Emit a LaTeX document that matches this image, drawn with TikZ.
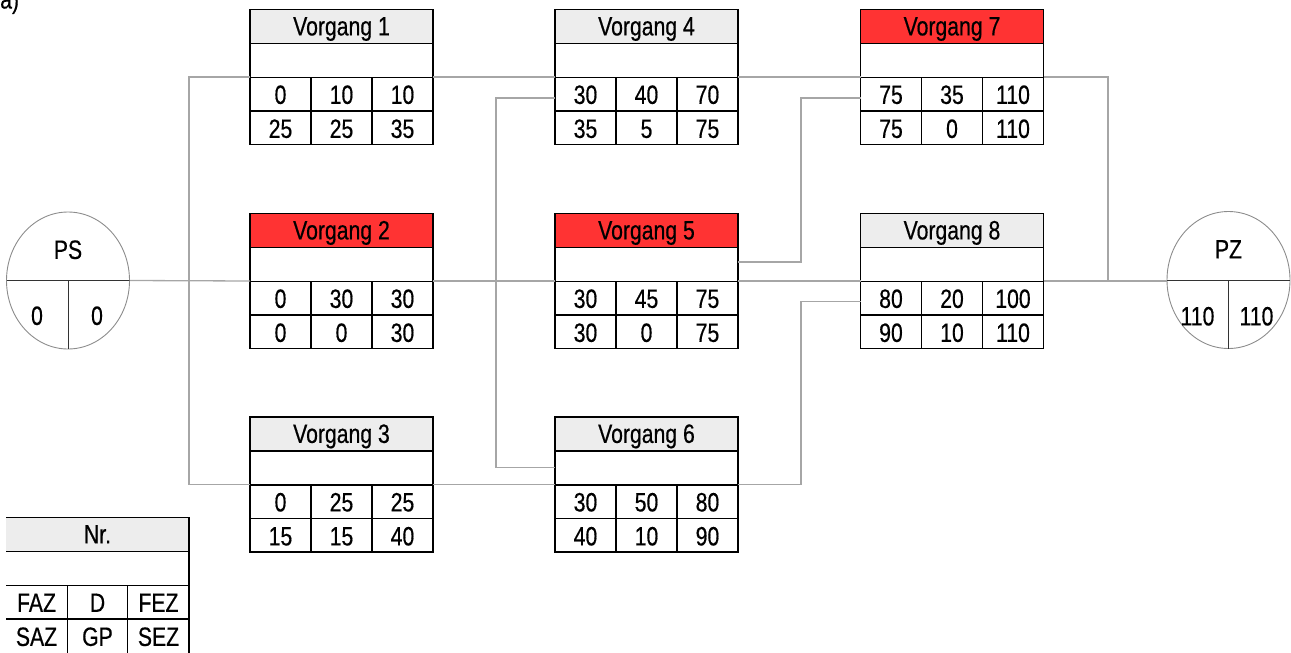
\documentclass[tikz,border=0pt]{standalone}
\usepackage{fontspec}
\setmainfont[FakeStretch=0.8,FakeBold=0.5]{Liberation Sans}
\usetikzlibrary{calc,shapes.geometric}

\definecolor{critred}{HTML}{FF3333}
\definecolor{headgrey}{HTML}{EDEDED}
\definecolor{linkgrey}{HTML}{A6A6A6}
\definecolor{rimgrey}{HTML}{8C8C8C}

\tikzset{
  lbl/.style={font=\fontsize{26.5}{30}\selectfont, inner sep=0pt, text height=18.8pt, text depth=0pt},
  actbox/.style={minimum width=183pt, minimum height=135pt, inner sep=0pt, outer sep=0pt},
  grid/.style={draw=black, line width=1.1pt},
  conn/.style={draw=linkgrey, line width=1.3pt},
  event/.style={ellipse, draw=rimgrey, line width=0.9pt, minimum width=123pt, minimum height=137pt, inner sep=0pt, outer sep=0pt},
  evline/.style={draw=black!80, line width=0.9pt},
}

% activity box: name, centre, title, header fill
\newcommand\Activity[4]{%
  \node[actbox] (#1) at (#2) {};
  \fill[#4] (#1.north west) rectangle ($(#1.north east)+(0,34)$);
  \draw[grid] (#1.north west) rectangle (#1.south east);
  \draw[grid] ($(#1.north west)+(0,34)$) -- ($(#1.north east)+(0,34)$)
              ($(#1.north west)+(0,68)$) -- ($(#1.north east)+(0,68)$)
              ($(#1.north west)+(0,101.5)$) -- ($(#1.north east)+(0,101.5)$)
              ($(#1.north west)+(61,68)$) -- ($(#1.south west)+(61,0)$)
              ($(#1.north west)+(122,68)$) -- ($(#1.south west)+(122,0)$);
  \node[lbl] (#1-t) at ($(#1.north)+(0,16.5)$) {#3};
}

% FAZ D FEZ / SAZ GP SEZ values of an activity box
\newcommand\Cells[7]{%
  \node[lbl] (#1-a) at ($(#1.north west)+(30.5,85)$) {#2};
  \node[lbl] (#1-b) at ($(#1.north west)+(91.5,85)$) {#3};
  \node[lbl] (#1-c) at ($(#1.north west)+(152.5,85)$) {#4};
  \node[lbl] (#1-d) at ($(#1.north west)+(30.5,119)$) {#5};
  \node[lbl] (#1-e) at ($(#1.north west)+(91.5,119)$) {#6};
  \node[lbl] (#1-f) at ($(#1.north west)+(152.5,119)$) {#7};
}

\begin{document}
\begin{tikzpicture}[x=1pt, y=-1pt]
\useasboundingbox (0,0) rectangle (1291,653);

\node[lbl, anchor=base west] (part) at (0,8.5) {a)};

% activities
\Activity{v1}{341.5,77}{Vorgang 1}{headgrey}
\Cells{v1}{0}{10}{10}{25}{25}{35}
\Activity{v2}{341.5,281}{Vorgang 2}{critred}
\Cells{v2}{0}{30}{30}{0}{0}{30}
\Activity{v3}{341.5,484.5}{Vorgang 3}{headgrey}
\Cells{v3}{0}{25}{25}{15}{15}{40}
\Activity{v4}{646.5,77}{Vorgang 4}{headgrey}
\Cells{v4}{30}{40}{70}{35}{5}{75}
\Activity{v5}{646.5,281}{Vorgang 5}{critred}
\Cells{v5}{30}{45}{75}{30}{0}{75}
\Activity{v6}{646.5,484.5}{Vorgang 6}{headgrey}
\Cells{v6}{30}{50}{80}{40}{10}{90}
\Activity{v7}{952,77}{Vorgang 7}{critred}
\Cells{v7}{75}{35}{110}{75}{0}{110}
\Activity{v8}{952,281}{Vorgang 8}{headgrey}
\Cells{v8}{80}{20}{100}{90}{10}{110}

% start and end events
\node[event] (PS) at (68,280.5) {};
\draw[evline] (PS.west) -- (PS.east) (PS.center) -- (PS.south);
\node[lbl] (PS-t) at ($(PS.center)+(0,-31)$) {PS};
\node[lbl] (PS-a) at ($(PS.center)+(-31,35)$) {0};
\node[lbl] (PS-b) at ($(PS.center)+(29,35)$) {0};

\node[event] (PZ) at (1228.5,280) {};
\draw[evline] (PZ.west) -- (PZ.east) (PZ.center) -- (PZ.south);
\node[lbl] (PZ-t) at ($(PZ.center)+(0,-31)$) {PZ};
\node[lbl] (PZ-a) at ($(PZ.center)+(-31,36)$) {110};
\node[lbl] (PZ-b) at ($(PZ.center)+(28,36)$) {110};

% junction points of the links
\coordinate (j1) at (189,281);
\coordinate (j3) at (1108,281);

% links
\draw[conn] (PS.east) -- (v2.west);
\draw[conn] (v1.west) -- (v1.west -| j1) -- (v3.west -| j1) -- (v3.west);
\draw[conn] (v2.east) -- (v5.west);
\draw[conn] (v5.east) -- (v8.west);
\draw[conn] (v8.east) -- (v8.east -| PZ.west);
\draw[conn] (v1.east) -- (v4.west);
\draw[conn] (v3.east) -- (v3.east -| v6.west);
\draw[conn] (v4.east) -- (v7.west);
\draw[conn] ($(v4.west)+(0,21)$) -- ++(-59,0) |- ($(v6.west)+(0,-17)$);
\draw[conn] ($(v5.east)+(0,-19)$) -- ++(63,0) |- ($(v7.west)+(0,21)$);
\draw[conn] (v6.east) -- ++(63,0) |- ($(v8.west)+(0,20.5)$);
\draw[conn] (v7.east) -| (j3);

% legend
\node[actbox] (leg) at (97.5,585) {};
\fill[headgrey] (leg.north west) rectangle ($(leg.north east)+(0,34)$);
\draw[grid] (leg.north west) -- (leg.north east) -- (leg.south east)
            ($(leg.north west)+(0,34)$) -- ($(leg.north east)+(0,34)$)
            ($(leg.north west)+(0,68)$) -- ($(leg.north east)+(0,68)$)
            ($(leg.north west)+(0,101.5)$) -- ($(leg.north east)+(0,101.5)$)
            ($(leg.north west)+(61.5,68)$) -- ($(leg.south west)+(61.5,0)$)
            ($(leg.north west)+(121.5,68)$) -- ($(leg.south west)+(121.5,0)$);
\node[lbl] (leg-t) at ($(leg.north)+(0,16.5)$) {Nr.};
\node[lbl] (leg-a) at ($(leg.north west)+(30.5,85)$) {FAZ};
\node[lbl] (leg-b) at ($(leg.north west)+(91.5,85)$) {D};
\node[lbl] (leg-c) at ($(leg.north west)+(152.5,85)$) {FEZ};
\node[lbl] (leg-d) at ($(leg.north west)+(30.5,119)$) {SAZ};
\node[lbl] (leg-e) at ($(leg.north west)+(91.5,119)$) {GP};
\node[lbl] (leg-f) at ($(leg.north west)+(152.5,119)$) {SEZ};
\end{tikzpicture}
\end{document}
